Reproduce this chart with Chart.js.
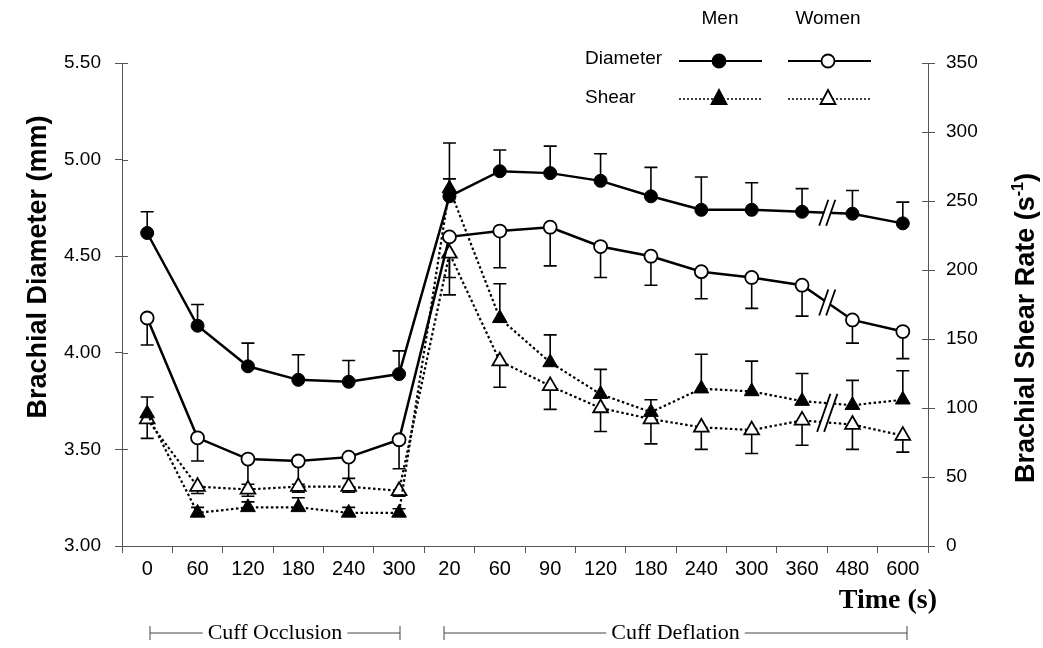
<!DOCTYPE html>
<html>
<head>
<meta charset="utf-8">
<script src="https://cdn.jsdelivr.net/npm/chart.js@4.4.0/dist/chart.umd.min.js"></script>
<style>
  html, body { margin: 0; padding: 0; background: #fff; }
</style>
</head>
<body>
<canvas id="myChart" width="1043" height="648"></canvas>
<script>
// x categories: occlusion 0..300 s, then deflation 20..600 s
var timeLabels = ['0', '60', '120', '180', '240', '300', '20', '60', '90', '120', '180', '240', '300', '360', '480', '600'];

// brachial diameter (mm), left axis
var menDiameter     = [4.62, 4.14, 3.93, 3.86, 3.85, 3.89, 4.81, 4.94, 4.93, 4.89, 4.81, 4.74, 4.74, 4.73, 4.72, 4.67];
var menDiameterSE   = [0.11, 0.11, 0.12, 0.13, 0.11, 0.12, 0.09, 0.11, 0.14, 0.14, 0.15, 0.17, 0.14, 0.12, 0.12, 0.11];
var womenDiameter   = [4.18, 3.56, 3.45, 3.44, 3.46, 3.55, 4.60, 4.63, 4.65, 4.55, 4.50, 4.42, 4.39, 4.35, 4.17, 4.11];
var womenDiameterSE = [0.14, 0.12, 0.13, 0.12, 0.11, 0.15, 0.21, 0.19, 0.20, 0.16, 0.15, 0.14, 0.16, 0.16, 0.12, 0.14];

// brachial shear rate (1/s), right axis
var menShear     = [96, 24, 28, 28, 24, 24, 259, 165, 133, 110, 97, 114, 112, 105, 102, 106];
var menShearSE   = [12, 4, 4, 7, 4, 3, 33, 25, 20, 18, 9, 25, 22, 20, 18, 21];
var womenShear   = [92, 43, 41, 43, 43, 40, 212, 134, 116, 100, 92, 86, 84, 91, 88, 80];
var womenShearSE = [14, 5, 5, 4, 4, 4, 30, 19, 17, 17, 18, 16, 17, 18, 18, 12];

// axis break sits between these two categories (360 -> 480)
var breakAfter = 13;

var SANS = "'Liberation Sans', Arial, sans-serif";
var SERIF = "'Liberation Serif', 'Times New Roman', serif";

// error bars: men drawn upward, women downward
var errorBars = {
  id: 'errorBars',
  beforeDatasetsDraw: function (chart) {
    var ctx = chart.ctx;
    chart.data.datasets.forEach(function (ds, di) {
      if (!ds.errors) return;
      var meta = chart.getDatasetMeta(di);
      var scale = chart.scales[ds.yAxisID];
      ctx.save();
      ctx.strokeStyle = '#000';
      ctx.lineWidth = 1.6;
      meta.data.forEach(function (pt, i) {
        var y2 = scale.getPixelForValue(ds.data[i] + ds.errDir * ds.errors[i]);
        ctx.beginPath();
        ctx.moveTo(pt.x, pt.y);
        ctx.lineTo(pt.x, y2);
        ctx.moveTo(pt.x - 6.5, y2);
        ctx.lineTo(pt.x + 6.5, y2);
        ctx.stroke();
      });
      ctx.restore();
    });
  }
};

function drawBreak(ctx, x, y, h) {
  var dx = h * 0.35, gap = 7;
  ctx.save();
  ctx.fillStyle = '#fff';
  ctx.beginPath();
  ctx.moveTo(x - gap / 2 - dx / 2, y + h / 2);
  ctx.lineTo(x - gap / 2 + dx / 2, y - h / 2);
  ctx.lineTo(x + gap / 2 + dx / 2, y - h / 2);
  ctx.lineTo(x + gap / 2 - dx / 2, y + h / 2);
  ctx.closePath();
  ctx.fill();
  ctx.strokeStyle = '#000';
  ctx.lineWidth = 1.8;
  ctx.beginPath();
  ctx.moveTo(x - gap / 2 - dx / 2, y + h / 2);
  ctx.lineTo(x - gap / 2 + dx / 2, y - h / 2);
  ctx.moveTo(x + gap / 2 - dx / 2, y + h / 2);
  ctx.lineTo(x + gap / 2 + dx / 2, y - h / 2);
  ctx.stroke();
  ctx.restore();
}

// "//" marks on the lines between 360 and 480
var breakMarks = {
  id: 'breakMarks',
  afterDatasetsDraw: function (chart) {
    var ctx = chart.ctx;
    var xs = chart.scales.x, yD = chart.scales.yD, yS = chart.scales.yS;
    var x = (xs.getPixelForValue(breakAfter) + xs.getPixelForValue(breakAfter + 1)) / 2;
    function mid(arr, sc) {
      return (sc.getPixelForValue(arr[breakAfter]) + sc.getPixelForValue(arr[breakAfter + 1])) / 2;
    }
    drawBreak(ctx, x, mid(menDiameter, yD), 26);
    drawBreak(ctx, x, mid(womenDiameter, yD), 26);
    drawBreak(ctx, x, (mid(menShear, yS) + mid(womenShear, yS)) / 2, 38);
  }
};

function marker(ctx, kind, filled, x, y) {
  ctx.save();
  ctx.fillStyle = filled ? '#000' : '#fff';
  ctx.strokeStyle = '#000';
  ctx.lineWidth = 1.8;
  ctx.beginPath();
  if (kind === 'circle') {
    ctx.arc(x, y, 6.5, 0, Math.PI * 2);
  } else {
    ctx.moveTo(x, y - 8);
    ctx.lineTo(x + 7.5, y + 6);
    ctx.lineTo(x - 7.5, y + 6);
    ctx.closePath();
  }
  ctx.fill();
  ctx.stroke();
  ctx.restore();
}

// legend, axis titles, phase brackets
var decorations = {
  id: 'decorations',
  afterDraw: function (chart) {
    var ctx = chart.ctx;
    var a = chart.chartArea;
    ctx.save();
    ctx.fillStyle = '#000';
    ctx.strokeStyle = '#000';

    // inner halves of y tick marks
    ctx.lineWidth = 1;
    ctx.strokeStyle = '#555';
    ['yD', 'yS'].forEach(function (id) {
      var sc = chart.scales[id];
      sc.ticks.forEach(function (t) {
        var y = Math.round(sc.getPixelForValue(t.value)) + 0.5;
        ctx.beginPath();
        if (id === 'yD') { ctx.moveTo(a.left, y); ctx.lineTo(a.left + 6, y); }
        else { ctx.moveTo(a.right, y); ctx.lineTo(a.right - 6, y); }
        ctx.stroke();
      });
    });
    ctx.strokeStyle = '#000';

    // legend
    ctx.font = '19px ' + SANS;
    ctx.textBaseline = 'middle';
    ctx.textAlign = 'center';
    ctx.fillText('Men', 720, 19);
    ctx.fillText('Women', 828, 19);
    ctx.textAlign = 'left';
    ctx.fillText('Diameter', 585, 59);
    ctx.fillText('Shear', 585, 98);

    ctx.lineWidth = 2;
    ctx.beginPath();
    ctx.moveTo(679, 61); ctx.lineTo(762, 61);
    ctx.moveTo(788, 61); ctx.lineTo(871, 61);
    ctx.stroke();
    ctx.setLineDash([2, 2]);
    ctx.lineWidth = 1.6;
    ctx.beginPath();
    ctx.moveTo(679, 99); ctx.lineTo(762, 99);
    ctx.moveTo(788, 99); ctx.lineTo(871, 99);
    ctx.stroke();
    ctx.setLineDash([]);
    marker(ctx, 'circle', true, 719, 61);
    marker(ctx, 'circle', false, 828, 61);
    marker(ctx, 'triangle', true, 719, 98);
    marker(ctx, 'triangle', false, 828, 98);

    // left axis title
    ctx.font = 'bold 27px ' + SANS;
    ctx.textBaseline = 'alphabetic';
    ctx.save();
    ctx.translate(46, 267);
    ctx.rotate(-Math.PI / 2);
    ctx.textAlign = 'center';
    ctx.fillText('Brachial Diameter (mm)', 0, 0);
    ctx.restore();

    // right axis title with superscript
    ctx.save();
    ctx.translate(1034, 328);
    ctx.rotate(-Math.PI / 2);
    ctx.textAlign = 'left';
    var main = 'Brachial Shear Rate (s';
    var bigFont = 'bold 27px ' + SANS, supFont = 'bold 16px ' + SANS;
    ctx.font = bigFont;
    var w1 = ctx.measureText(main).width;
    var w3 = ctx.measureText(')').width;
    ctx.font = supFont;
    var w2 = ctx.measureText('-1').width;
    var x0 = -(w1 + w2 + w3) / 2;
    ctx.font = bigFont;
    ctx.fillText(main, x0, 0);
    ctx.font = supFont;
    ctx.fillText('-1', x0 + w1, -11);
    ctx.font = bigFont;
    ctx.fillText(')', x0 + w1 + w2, 0);
    ctx.restore();

    // x axis title
    ctx.font = 'bold 28px ' + SERIF;
    ctx.textAlign = 'right';
    ctx.textBaseline = 'middle';
    ctx.fillText('Time (s)', 937, 601);

    // phase brackets
    function bracket(text, x1, x2, y) {
      ctx.font = '22px ' + SERIF;
      ctx.textAlign = 'center';
      ctx.textBaseline = 'middle';
      var cx = (x1 + x2) / 2;
      var tw = ctx.measureText(text).width;
      ctx.fillText(text, cx, y);
      ctx.lineWidth = 1;
      ctx.strokeStyle = '#444';
      ctx.beginPath();
      ctx.moveTo(x1, y); ctx.lineTo(cx - tw / 2 - 5, y);
      ctx.moveTo(cx + tw / 2 + 5, y); ctx.lineTo(x2, y);
      ctx.moveTo(x1, y - 7); ctx.lineTo(x1, y + 7);
      ctx.moveTo(x2, y - 7); ctx.lineTo(x2, y + 7);
      ctx.stroke();
    }
    bracket('Cuff Occlusion', 150, 400, 633);
    bracket('Cuff Deflation', 444, 907, 633);
    ctx.restore();
  }
};

var canvas = document.getElementById('myChart');
var myChart = new Chart(canvas, {
  type: 'line',
  data: {
    labels: timeLabels,
    datasets: [
      {
        label: 'Men Diameter', data: menDiameter, errors: menDiameterSE, errDir: 1,
        yAxisID: 'yD', order: 1,
        borderColor: '#000', borderWidth: 2.5,
        pointStyle: 'circle', pointRadius: 6.5, pointBackgroundColor: '#000',
        pointBorderColor: '#000', pointBorderWidth: 1
      },
      {
        label: 'Women Diameter', data: womenDiameter, errors: womenDiameterSE, errDir: -1,
        yAxisID: 'yD', order: 2,
        borderColor: '#000', borderWidth: 2.5,
        pointStyle: 'circle', pointRadius: 6.5, pointBackgroundColor: '#fff',
        pointBorderColor: '#000', pointBorderWidth: 1.8
      },
      {
        label: 'Men Shear', data: menShear, errors: menShearSE, errDir: 1,
        yAxisID: 'yS', order: 3,
        borderColor: '#000', borderWidth: 2.2, borderDash: [2.5, 2.5],
        pointStyle: 'triangle', pointRadius: 8.5, pointBackgroundColor: '#000',
        pointBorderColor: '#000', pointBorderWidth: 1
      },
      {
        label: 'Women Shear', data: womenShear, errors: womenShearSE, errDir: -1,
        yAxisID: 'yS', order: 4,
        borderColor: '#000', borderWidth: 2.2, borderDash: [2.5, 2.5],
        pointStyle: 'triangle', pointRadius: 8.5, pointBackgroundColor: '#fff',
        pointBorderColor: '#000', pointBorderWidth: 1.8
      }
    ]
  },
  options: {
    responsive: false,
    animation: false,
    layout: { padding: { top: 63, bottom: 62, left: 0, right: 0 } },
    plugins: {
      legend: { display: false },
      tooltip: { enabled: false }
    },
    elements: { line: { tension: 0 } },
    scales: {
      x: {
        type: 'category',
        offset: true,
        afterFit: function (s) { s.height = 40; },
        grid: { offset: true, drawOnChartArea: false, tickLength: 7, color: '#555' },
        border: { color: '#555', width: 1 },
        ticks: {
          color: '#000', padding: 4, maxRotation: 0, autoSkip: false,
          font: { family: "'Liberation Sans Narrow', 'Arial Narrow', 'Liberation Sans', sans-serif", size: 20 }
        }
      },
      yD: {
        position: 'left',
        min: 3, max: 5.5,
        afterFit: function (s) { s.width = 122; },
        grid: { drawOnChartArea: false, tickLength: 7, color: '#555' },
        border: { color: '#555', width: 1 },
        ticks: {
          stepSize: 0.5, color: '#000', padding: 14,
          font: { family: SANS, size: 19 },
          callback: function (v) { return Number(v).toFixed(2); }
        }
      },
      yS: {
        position: 'right',
        min: 0, max: 350,
        afterFit: function (s) { s.width = 115; },
        grid: { drawOnChartArea: false, tickLength: 7, color: '#555' },
        border: { color: '#555', width: 1 },
        ticks: {
          stepSize: 50, color: '#000', padding: 11,
          font: { family: SANS, size: 19 }
        }
      }
    }
  },
  plugins: [errorBars, breakMarks, decorations]
});
</script>
</body>
</html>
